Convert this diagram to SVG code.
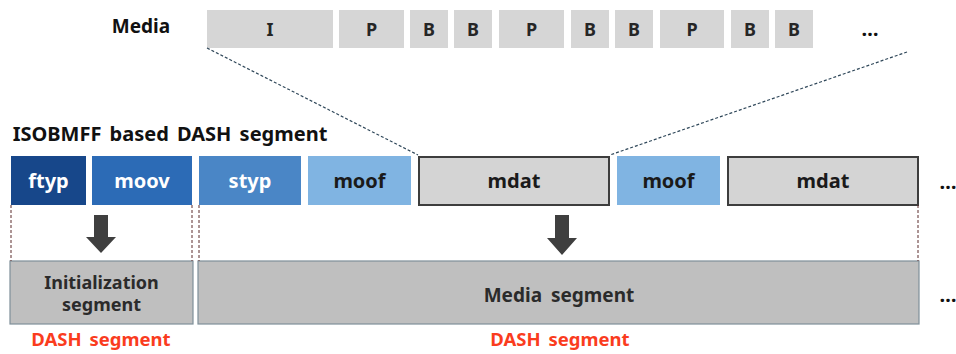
<svg xmlns="http://www.w3.org/2000/svg" width="956" height="354" viewBox="0 0 956 354">
  <style>
    text { font-family: "Noto Sans", "Open Sans", "Liberation Sans", sans-serif; font-weight: bold; text-anchor: middle; word-spacing: 2px; }
    .frame { fill: #d6d6d6; }
    .frame-t { font-size: 18px; fill: #262626; }
    .label { font-size: 19px; fill: #111; }
    .title { font-size: 20px; fill: #111; word-spacing: 3px; }
    .box-t { font-size: 20px; }
    .white { fill: #ffffff; }
    .dark { fill: #1a1a1a; }
    .mdat { fill: #d4d4d4; stroke: #3d3d3d; stroke-width: 2; }
    .seg { fill: #bfbfbf; stroke: #7f8f99; stroke-width: 1.2; }
    .seg-t { font-size: 18px; fill: #2b2b2b; }
    .big { font-size: 19px; word-spacing: 4px; }
    .red { font-size: 18.5px; fill: #fa3c1e; word-spacing: 3px; }
    .dash { stroke: #30485a; stroke-width: 1.2; stroke-dasharray: 3 2; fill: none; }
    .vdash { stroke: #5a2a2a; stroke-width: 1; stroke-dasharray: 3 2; fill: none; }
    .arrow { fill: #3f3f3f; }
    .dots { font-size: 20px; fill: #111; }
  </style>

  <!-- media frame sequence -->
  <g id="media">
    <text class="label" x="141" y="33">Media</text>
    <g id="frame-I"><rect class="frame" x="207" y="10" width="126" height="38"/><text class="frame-t" x="270" y="36">I</text></g>
    <g id="frame-P1"><rect class="frame" x="339" y="10" width="65" height="38"/><text class="frame-t" x="371.5" y="36">P</text></g>
    <g id="frame-B1"><rect class="frame" x="410" y="10" width="38" height="38"/><text class="frame-t" x="429" y="36">B</text></g>
    <g id="frame-B2"><rect class="frame" x="454" y="10" width="38" height="38"/><text class="frame-t" x="473" y="36">B</text></g>
    <g id="frame-P2"><rect class="frame" x="499" y="10" width="65" height="38"/><text class="frame-t" x="531.5" y="36">P</text></g>
    <g id="frame-B3"><rect class="frame" x="571" y="10" width="38" height="38"/><text class="frame-t" x="590" y="36">B</text></g>
    <g id="frame-B4"><rect class="frame" x="615" y="10" width="38" height="38"/><text class="frame-t" x="634" y="36">B</text></g>
    <g id="frame-P3"><rect class="frame" x="660" y="10" width="64" height="38"/><text class="frame-t" x="692" y="36">P</text></g>
    <g id="frame-B5"><rect class="frame" x="731" y="10" width="38" height="38"/><text class="frame-t" x="750" y="36">B</text></g>
    <g id="frame-B6"><rect class="frame" x="775" y="10" width="38" height="38"/><text class="frame-t" x="794" y="36">B</text></g>
    <text class="dots" x="870" y="36">…</text>
  </g>

  <text class="title" x="170" y="141">ISOBMFF based DASH segment</text>

  <!-- ISOBMFF boxes -->
  <g id="ftyp"><rect x="11" y="156" width="75" height="49" fill="#17478a"/><text class="box-t white" x="48.5" y="188">ftyp</text></g>
  <g id="moov"><rect x="92" y="156" width="100" height="49" fill="#2c6bb6"/><text class="box-t white" x="142" y="188">moov</text></g>
  <g id="styp"><rect x="199" y="156" width="102" height="49" fill="#4a86c6"/><text class="box-t white" x="250" y="188">styp</text></g>
  <g id="moof1"><rect x="308" y="156" width="103" height="49" fill="#80b4e2"/><text class="box-t dark" x="359.5" y="188">moof</text></g>
  <g id="mdat1"><rect class="mdat" x="419" y="157" width="190" height="48"/><text class="box-t dark" x="514" y="188">mdat</text></g>
  <g id="moof2"><rect x="617" y="156" width="103" height="49" fill="#80b4e2"/><text class="box-t dark" x="668.5" y="188">moof</text></g>
  <g id="mdat2"><rect class="mdat" x="728" y="157" width="190" height="48"/><text class="box-t dark" x="823" y="188">mdat</text></g>
  <text class="dots" x="948" y="189">…</text>

  <!-- DASH segments -->
  <g id="init-segment">
    <rect class="seg" x="10" y="261" width="183" height="63"/>
    <text class="seg-t" x="101.5" y="289">Initialization</text>
    <text class="seg-t" x="101.5" y="311">segment</text>
    <text class="red" x="101" y="346">DASH segment</text>
  </g>
  <g id="media-segment">
    <rect class="seg" x="198" y="261" width="721" height="63"/>
    <text class="seg-t big" x="559" y="302">Media segment</text>
    <text class="red" x="560" y="346">DASH segment</text>
  </g>
  <text class="dots" x="948" y="302">…</text>

  <!-- connectors -->
  <g id="connectors">
    <line class="dash" x1="207" y1="48" x2="418" y2="155"/>
    <line class="dash" x1="907" y1="52" x2="610" y2="155"/>
    <line class="vdash" x1="11" y1="205" x2="11" y2="261"/>
    <line class="vdash" x1="192" y1="205" x2="192" y2="261"/>
    <line class="vdash" x1="199" y1="205" x2="199" y2="261"/>
    <line class="vdash" x1="918" y1="205" x2="918" y2="261"/>
    <path class="arrow" d="M94 215 H108 V237 H116 L101 253 L86 237 H94 Z"/>
    <path class="arrow" d="M555 215 H569 V238 H577 L562 255 L547 238 H555 Z"/>
  </g>
</svg>
